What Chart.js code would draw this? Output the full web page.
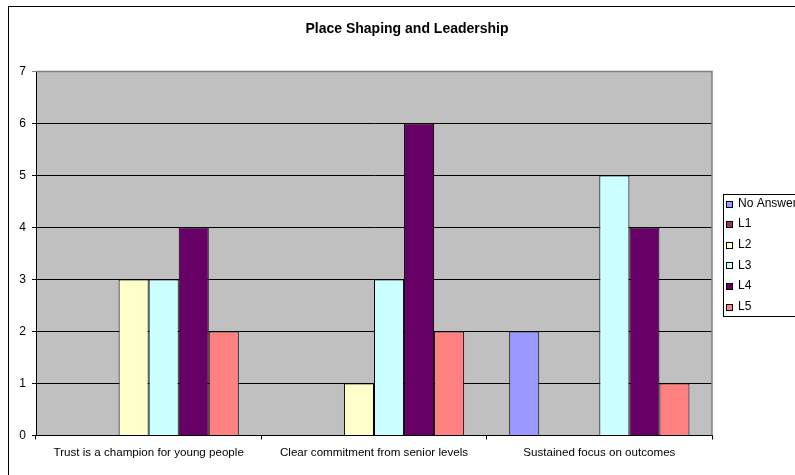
<!DOCTYPE html>
<html>
<head>
<meta charset="utf-8">
<script src="https://cdn.jsdelivr.net/npm/chart.js@4/dist/chart.umd.min.js"></script>
<style>
body { margin: 0; overflow: hidden; background: #fff; }
</style>
</head>
<body>
<canvas id="grafica" width="900" height="475"></canvas>
<script>
var titulo_grafica = "Place Shaping and Leadership"
var categorias = ["Trust is a champion for young people", "Clear commitment from senior levels", "Sustained focus on outcomes"]
var etiquetas_y = [0, 1, 2, 3, 4, 5, 6, 7]

var no_answer = [0, 0, 2]
var l1 = [0, 0, 0]
var l2 = [3, 1, 0]
var l3 = [3, 3, 5]
var l4 = [4, 6, 4]
var l5 = [2, 2, 1]

var nombres_series = ["No Answer", "L1", "L2", "L3", "L4", "L5"]
var valores_series = [no_answer, l1, l2, l3, l4, l5]
var colores = ["#9999FF", "#993366", "#FFFFCC", "#CCFFFF", "#660066", "#FF8080"]

var fuente = "Liberation Sans, Arial, sans-serif"

// marco, fondo gris del area de trazado, titulo y leyenda con recuadro
var decorado = {
    id: "decorado",
    beforeDraw: function (chart) {
        var ctx = chart.ctx
        var area = chart.chartArea
        ctx.save()
        ctx.fillStyle = "#ffffff"
        ctx.fillRect(0, 0, chart.width, chart.height)
        ctx.strokeStyle = "#000000"
        ctx.lineWidth = 1
        ctx.strokeRect(8.5, 6.5, 1200, 1200)
        ctx.fillStyle = "#C0C0C0"
        ctx.fillRect(area.left, area.top, area.right - area.left, area.bottom - area.top)
        ctx.restore()
    },
    afterDraw: function (chart) {
        var ctx = chart.ctx
        var area = chart.chartArea
        ctx.save()
        ctx.strokeStyle = "#808080"
        ctx.lineWidth = 1.5
        ctx.beginPath()
        ctx.moveTo(area.left, area.top)
        ctx.lineTo(area.right, area.top)
        ctx.lineTo(area.right, area.bottom)
        ctx.stroke()

        ctx.fillStyle = "#000000"
        ctx.font = "bold 14px " + fuente
        ctx.textAlign = "center"
        ctx.textBaseline = "middle"
        ctx.fillText(titulo_grafica, 407, 29.5)

        // leyenda
        var x = 723.5, y = 194.5
        ctx.strokeStyle = "#000000"
        ctx.lineWidth = 1
        ctx.strokeRect(x, y, 150, 122)
        ctx.font = "12px " + fuente
        ctx.textAlign = "left"
        chart.data.datasets.forEach(function (ds, i) {
            var cy = 203.5 + i * 20.6
            ctx.fillStyle = ds.backgroundColor
            ctx.fillRect(726, Math.round(cy - 3), 6, 6)
            ctx.strokeStyle = "#000000"
            ctx.strokeRect(726.5, Math.round(cy - 3) + 0.5, 6, 6)
            ctx.fillStyle = "#000000"
            ctx.fillText(ds.label, 738, cy)
        })
        ctx.restore()
    }
}

var conjuntos = nombres_series.map(function (nombre, i) {
    return {
        label: nombre,
        data: valores_series[i],
        backgroundColor: colores[i],
        borderColor: "#000000",
        borderWidth: 1,
        barPercentage: 1,
        categoryPercentage: 0.8
    }
})

var grafica = new Chart(document.getElementById("grafica"), {
    type: "bar",
    data: { labels: categorias, datasets: conjuntos },
    plugins: [decorado],
    options: {
        responsive: false,
        animation: false,
        layout: { padding: { left: 0, top: 71.5, right: 188, bottom: 0 } },
        plugins: {
            legend: { display: false },
            title: { display: false },
            tooltip: { enabled: false }
        },
        scales: {
            x: {
                offset: true,
                grid: { offset: true, drawOnChartArea: false, color: "#000000", tickLength: 4 },
                border: { color: "#000000", width: 1 },
                ticks: { color: "#000000", font: { family: fuente, size: 11.6 }, padding: 6, maxRotation: 0, autoSkip: false },
                afterFit: function (escala) { escala.height = 39.5 }
            },
            y: {
                min: 0,
                max: 7,
                afterBuildTicks: function (escala) {
                    escala.ticks = etiquetas_y.map(function (v) { return { value: v } })
                },
                grid: {
                    color: function (c) { return c.tick && c.tick.value === 7 ? "#808080" : "#000000" },
                    tickLength: 4
                },
                border: { color: "#000000", width: 1 },
                ticks: { color: "#000000", font: { family: fuente, size: 12 }, padding: 6 },
                afterFit: function (escala) { escala.width = 36 }
            }
        }
    }
})
</script>
</body>
</html>
